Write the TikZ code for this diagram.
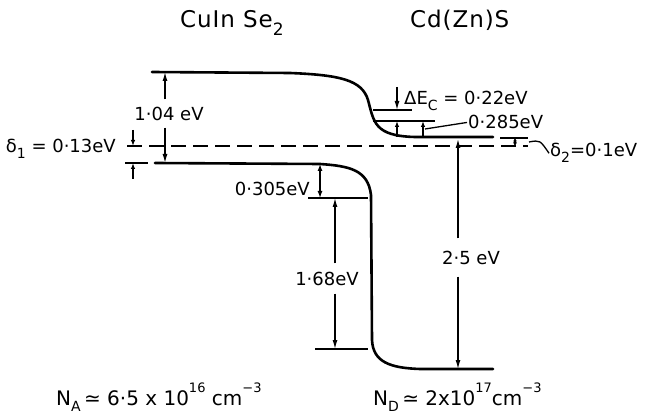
\documentclass[tikz,border=0pt]{standalone}
\usepackage{fontspec}
\setmainfont{DejaVu Sans}
\usetikzlibrary{arrows.meta}
\newcommand{\upr}[1]{\raisebox{1.1ex}{\fontsize{13}{13}\selectfont #1}}
\newcommand{\dnr}[1]{\raisebox{-0.6ex}{\fontsize{14}{14}\selectfont #1}}
\newcommand{\dnt}[1]{\raisebox{-0.6ex}{\fontsize{17}{17}\selectfont #1}}
\begin{document}
\begin{tikzpicture}[x=1pt,y=-1pt,
  band/.style={line width=2.6pt, line cap=round},
  thinl/.style={line width=1.3pt},
  arr/.style={thinl, -{Latex[length=9pt,width=5pt]}},
  sarr/.style={thinl, -{Latex[length=6pt,width=4.5pt]}},
  darr/.style={thinl, {Latex[length=7pt,width=5pt]}-{Latex[length=7pt,width=5pt]}},
  lbl/.style={font=\fontsize{18}{18}\selectfont, inner sep=1pt},
  gaplbl/.style={font=\fontsize{18}{18}\selectfont, inner xsep=1pt},
  ttl/.style={font=\fontsize{23}{23}\selectfont\addfontfeature{LetterSpace=4}, inner sep=0pt},
  dop/.style={font=\fontsize{20}{20}\selectfont, inner sep=0pt},
  fermi/.style={thinl, dash pattern=on 15pt off 7pt},
]
\useasboundingbox (0,0) rectangle (650,419);

% titles
\node[ttl, anchor=base west] (t1) at (180,28) {CuIn Se\dnt{2}};
\node[ttl, anchor=base west] (t2) at (410,28) {Cd(Zn)S};

% key coordinates
\coordinate (cbL) at (152,72);
\coordinate (cbR) at (493,137);
\coordinate (vbL) at (155,163);
\coordinate (vbR) at (493,369);

% bands
\draw[band] (cbL) -- (290,73) .. controls (340,75) and (362,80) .. (368,100)
  .. controls (374,122) and (374,136) .. (415,137) -- (cbR);
\draw[band] (vbL) -- (320,164) .. controls (350,166) and (368,170) .. (371,195)
  -- (372,340) .. controls (373,362) and (390,368) .. (420,369) -- (vbR);

% Fermi level
\coordinate (fL) at (127,146);
\coordinate (fR) at (528,146);
\draw[fermi] (fL) -- (fR);

% delta 1
\coordinate (d1a) at (125,163);
\coordinate (d1b) at (148,163);
\draw[thinl] (d1a) -- (d1b);
\coordinate (d1top) at (133,130);
\coordinate (d1f) at (133,146);
\coordinate (d1bot) at (133,179);
\coordinate (d1v) at (133,163);
\draw[sarr] (d1top) -- (d1f);
\draw[sarr] (d1bot) -- (d1v);
\node[lbl, anchor=base east] (d1) at (117,153) {δ\dnr{1} = 0·13eV};

% 1.04 eV
\node[gaplbl, inner ysep=7pt] (g1) at (169,113.5) {1·04 eV};
\coordinate (g1t) at (165,72);
\coordinate (g1b) at (165,163);
\draw[arr] (g1.north -| g1t) -- (g1t);
\draw[arr] (g1.south -| g1b) -- (g1b);

% Delta Ec
\coordinate (ecA) at (373,110);
\coordinate (ecB) at (412,110);
\draw[thinl] (ecA) -- (ecB);
\coordinate (ecT) at (397,87);
\coordinate (ecD) at (397,110);
\draw[arr] (ecT) -- (ecD);
\node[lbl, anchor=base west] (dec) at (403,105) {ΔE\dnr{C} = 0·22eV};

% 0.285 eV
\coordinate (l2A) at (373,121);
\coordinate (l2B) at (435,121);
\draw[thinl] (l2A) -- (l2B);
\coordinate (a1b) at (397,137);
\coordinate (a1t) at (397,121);
\draw[sarr] (a1b) -- (a1t);
\coordinate (a2b) at (423,137);
\coordinate (a2t) at (423,121);
\draw[sarr] (a2b) -- (a2t);
\node[lbl, anchor=base west] (l285) at (467,129) {0·285eV};
\coordinate (ld) at (425,129);
\draw[thinl] (ld) -- (l285.west);

% delta 2
\coordinate (d2a) at (500,138);
\coordinate (d2b) at (528,138);
\draw[thinl] (d2a) -- (d2b);
\coordinate (d2t) at (515,138);
\coordinate (d2f) at (515,146);
\draw[thinl, {Latex[length=3.5pt,width=4pt]}-{Latex[length=3.5pt,width=4pt]}] (d2t) -- (d2f);
\node[lbl, anchor=base west] (d2) at (549,157) {δ\dnr{2}=0·1eV};
\coordinate (d2l) at (529,142);
\draw[thinl] (d2l) .. controls (540,140) .. (d2.west);

% 0.305 eV
\coordinate (v3t) at (320,164);
\coordinate (v3b) at (320,198);
\draw[darr] (v3t) -- (v3b);
\coordinate (l3A) at (308,198);
\coordinate (l3B) at (368,198);
\draw[thinl] (l3A) -- (l3B);
\node[lbl, anchor=base east] (l305) at (311,196) {0·305eV};

% 1.68 eV
\coordinate (l4A) at (315,349);
\coordinate (l4B) at (368,349);
\draw[thinl] (l4A) -- (l4B);
\node[gaplbl, inner ysep=8pt] (g2) at (327,278.5) {1·68eV};
\coordinate (g2t) at (335,198);
\coordinate (g2b) at (335,349);
\draw[arr] (g2.north -| g2t) -- (g2t);
\draw[arr] (g2.south -| g2b) -- (g2b);

% 2.5 eV
\node[gaplbl, inner ysep=12pt] (g3) at (471,257.5) {2·5 eV};
\coordinate (g3t) at (458,139);
\coordinate (g3b) at (458,369);
\draw[arr] (g3.north -| g3t) -- (g3t);
\draw[arr] (g3.south -| g3b) -- (g3b);

% doping
\node[dop, anchor=base west] (na) at (56,405)
  {N\dnr{A}\,≃ 6·5 x 10\upr{16} cm\upr{−3}};
\node[dop, anchor=base west] (nd) at (373,405)
  {N\dnr{D}\,≃ 2x10\upr{17}cm\upr{−3}};
\end{tikzpicture}
\end{document}
